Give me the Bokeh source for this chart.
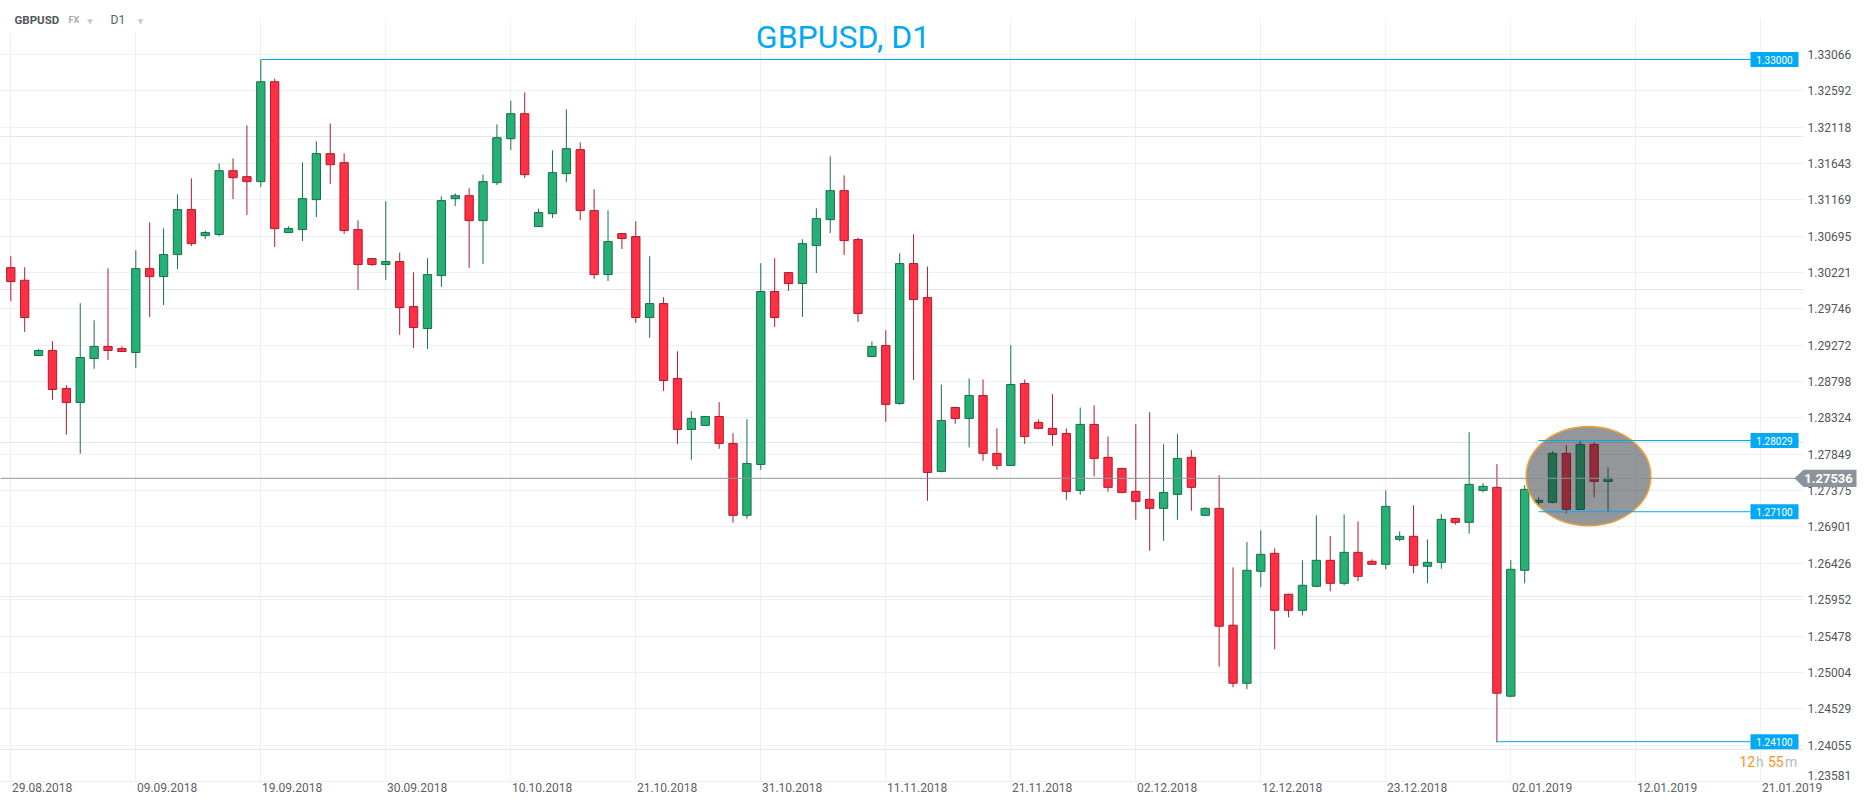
from bokeh.plotting import figure
from bokeh.models import Range1d, FixedTicker, Grid
from bokeh.embed import file_html
from bokeh.resources import INLINE
from bokeh.core.properties import value

# ---------------- data ----------------
date_ticks = ["29.08.2018", "09.09.2018", "19.09.2018", "30.09.2018", "10.10.2018",
              "21.10.2018", "31.10.2018", "11.11.2018", "21.11.2018", "02.12.2018",
              "12.12.2018", "23.12.2018", "02.01.2019", "12.01.2019", "21.01.2019"]
bars_per_tick = 9

price_ticks = [1.33066, 1.32592, 1.32118, 1.31643, 1.31169, 1.30695, 1.30221, 1.29746,
               1.29272, 1.28798, 1.28324, 1.27849, 1.27375, 1.26901, 1.26426, 1.25952,
               1.25478, 1.25004, 1.24529, 1.24055, 1.23581]

opens = [1.30285, 1.30120, 1.29138, 1.29204, 1.28708, 1.28526, 1.29099, 1.29256, 1.29230, 1.29177,
         1.30272, 1.30168, 1.30455, 1.31042, 1.30703, 1.30716, 1.31550, 1.31472, 1.31407, 1.32710,
         1.30742, 1.30781, 1.31172, 1.31772, 1.31654, 1.30781, 1.30403, 1.30325, 1.30364, 1.29777,
         1.29490, 1.30181, 1.31185, 1.31224, 1.30898, 1.31394, 1.31967, 1.32293, 1.30820, 1.30989,
         1.31511, 1.31824, 1.31029, 1.30194, 1.30729, 1.30690, 1.29634, 1.29816, 1.28839, 1.28174,
         1.28226, 1.28343, 1.27991, 1.27053, 1.27717, 1.29973, 1.30220, 1.30077, 1.30572, 1.30911,
         1.31289, 1.30651, 1.29125, 1.29269, 1.28513, 1.30338, 1.29894, 1.27626, 1.28460, 1.28317,
         1.28617, 1.27861, 1.27704, 1.28773, 1.28265, 1.28187, 1.28121, 1.27378, 1.28239, 1.27809,
         1.27665, 1.27365, 1.27261, 1.27144, 1.27326, 1.27809, 1.27053, 1.27144, 1.25619, 1.24862,
         1.26323, 1.26557, 1.26023, 1.25814, 1.26127, 1.26466, 1.26166, 1.26570, 1.26453, 1.26414,
         1.26740, 1.26779, 1.26388, 1.26440, 1.27013, 1.26961, 1.27378, 1.27418, 1.24693, 1.26336,
         1.27222, 1.27222, 1.27861, 1.27131, 1.27978, 1.27496]
highs = [1.30433, 1.30289, 1.29220, 1.29325, 1.28751, 1.29820, 1.29598, 1.30276, 1.29260, 1.30511,
         1.30876, 1.30798, 1.31241, 1.31450, 1.30768, 1.31645, 1.31710, 1.32141, 1.32995, 1.32749,
         1.30824, 1.31658, 1.31932, 1.32167, 1.31776, 1.30902, 1.30410, 1.31150, 1.30481, 1.30224,
         1.30407, 1.31215, 1.31254, 1.31319, 1.31498, 1.32154, 1.32463, 1.32571, 1.31055, 1.31815,
         1.32349, 1.31919, 1.31306, 1.31032, 1.30735, 1.30889, 1.30433, 1.29898, 1.29194, 1.28412,
         1.28343, 1.28530, 1.28125, 1.28308, 1.30342, 1.30407, 1.30228, 1.30654, 1.31059, 1.31736,
         1.31489, 1.30677, 1.29321, 1.29468, 1.30472, 1.30720, 1.30299, 1.28760, 1.28468, 1.28839,
         1.28825, 1.28187, 1.29273, 1.28825, 1.28304, 1.28634, 1.28187, 1.28460, 1.28487, 1.28082,
         1.27672, 1.28243, 1.28399, 1.27982, 1.28112, 1.27904, 1.27157, 1.27574, 1.26375, 1.26705,
         1.26857, 1.26622, 1.26030, 1.26466, 1.27053, 1.26783, 1.27066, 1.26974, 1.26479, 1.27378,
         1.26844, 1.27183, 1.26740, 1.27070, 1.27020, 1.28138, 1.27474, 1.27721, 1.26470, 1.27448,
         1.27287, 1.27891, 1.27969, 1.28029, 1.28008, 1.27678]
lows = [1.29850, 1.29446, 1.29138, 1.28560, 1.28103, 1.27856, 1.28964, 1.29081, 1.29190, 1.28977,
        1.29642, 1.29798, 1.30267, 1.30567, 1.30658, 1.30697, 1.31180, 1.30971, 1.31336, 1.30554,
        1.30742, 1.30632, 1.30945, 1.31375, 1.30724, 1.29994, 1.30306, 1.30124, 1.29407, 1.29237,
        1.29224, 1.30033, 1.31089, 1.30280, 1.30332, 1.31362, 1.31819, 1.31454, 1.30820, 1.30932,
        1.31401, 1.30906, 1.30137, 1.30111, 1.30528, 1.29563, 1.29368, 1.28677, 1.27986, 1.27777,
        1.28226, 1.27921, 1.26956, 1.27008, 1.27647, 1.29511, 1.29980, 1.29642, 1.30215, 1.30737,
        1.30450, 1.29576, 1.29125, 1.28273, 1.28494, 1.28820, 1.27243, 1.27613, 1.28247, 1.27939,
        1.27764, 1.27647, 1.27700, 1.27986, 1.28174, 1.27960, 1.27256, 1.27321, 1.27561, 1.27360,
        1.27339, 1.26995, 1.26591, 1.26721, 1.26995, 1.27113, 1.27040, 1.25079, 1.24810, 1.24784,
        1.26114, 1.25306, 1.25723, 1.25749, 1.26114, 1.26062, 1.26140, 1.26192, 1.26414, 1.26349,
        1.26714, 1.26297, 1.26166, 1.26356, 1.26930, 1.26813, 1.27352, 1.24090, 1.24680, 1.26166,
        1.27170, 1.27209, 1.27079, 1.27120, 1.27287, 1.27100]
closes = [1.30103, 1.29634, 1.29204, 1.28695, 1.28526, 1.29112, 1.29256, 1.29204, 1.29190, 1.30272,
          1.30168, 1.30455, 1.31042, 1.30598, 1.30742, 1.31550, 1.31459, 1.31407, 1.32710, 1.30794,
          1.30794, 1.31185, 1.31772, 1.31628, 1.30768, 1.30325, 1.30325, 1.30364, 1.29764, 1.29503,
          1.30194, 1.31159, 1.31224, 1.30898, 1.31407, 1.31980, 1.32293, 1.31498, 1.31003, 1.31524,
          1.31837, 1.31029, 1.30194, 1.30624, 1.30664, 1.29634, 1.29816, 1.28812, 1.28174, 1.28317,
          1.28343, 1.27991, 1.27053, 1.27730, 1.29973, 1.29634, 1.30077, 1.30598, 1.30924, 1.31289,
          1.30637, 1.29686, 1.29256, 1.28500, 1.30338, 1.29868, 1.27613, 1.28291, 1.28317, 1.28617,
          1.27861, 1.27704, 1.28760, 1.28082, 1.28187, 1.28108, 1.27365, 1.28239, 1.27796, 1.27418,
          1.27352, 1.27235, 1.27144, 1.27352, 1.27796, 1.27418, 1.27144, 1.25606, 1.24862, 1.26336,
          1.26544, 1.25814, 1.25814, 1.26140, 1.26466, 1.26166, 1.26570, 1.26257, 1.26414, 1.27170,
          1.26779, 1.26401, 1.26440, 1.27000, 1.26961, 1.27457, 1.27431, 1.24732, 1.26349, 1.27392,
          1.27248, 1.27861, 1.27131, 1.27978, 1.27496, 1.27536]

last_price = 1.27536
level_values = [1.33000, 1.28029, 1.27100, 1.24100]
level_labels = ["1.33000", "1.28029", "1.27100", "1.24100"]
level_start_bar = [18, 110, 110, 107]

# ---------------- layout (page pixels) ----------------
FONT = "Roboto"
W, H = 1866, 806
X0_PX = 10.3                 # pixel of first bar centre
BAR_PX = 125.0 / 9.0         # pixels per bar
FR_B = 782                   # frame bottom
KY = 0.00013047              # price per pixel
Y_TOP = 1.33770              # price at top edge


def xd(px):
    return (px - X0_PX) / BAR_PX


def yd(py):
    return Y_TOP - py * KY


p = figure(width=W, height=H,
           x_range=Range1d(xd(0), xd(W)),
           y_range=Range1d(yd(FR_B), Y_TOP),
           y_axis_location=None,
           output_backend="svg", toolbar_location=None,
           min_border_left=0, min_border_right=0,
           min_border_top=0, min_border_bottom=H - FR_B)
p.outline_line_color = None
p.background_fill_color = "white"
p.border_fill_color = "white"

GRID = "#eff0f2"
# x axis: labels left-aligned at the grid lines (label ticks shifted by half a label)
LABEL_SHIFT = 2.25
p.xaxis.ticker = FixedTicker(ticks=[i * bars_per_tick + LABEL_SHIFT for i in range(len(date_ticks))])
p.xaxis.major_label_overrides = {i * bars_per_tick + LABEL_SHIFT: d for i, d in enumerate(date_ticks)}
p.xaxis.major_label_text_font = FONT
p.xaxis.major_label_text_font_size = "12px"
p.xaxis.major_label_text_color = "#5b6166"
p.xaxis.major_label_standoff = 0
p.xaxis.major_tick_line_color = None
p.xaxis.major_tick_out = 0
p.xaxis.minor_tick_line_color = None
p.xaxis.axis_line_color = None
p.xgrid.ticker = FixedTicker(ticks=[i * bars_per_tick for i in range(len(date_ticks))])
p.xgrid.grid_line_color = GRID
p.add_layout(Grid(dimension=1, ticker=FixedTicker(ticks=price_ticks), grid_line_color=GRID))

# white margins (header strip, header box, price scale area)
p.quad(left=[xd(0), xd(0), xd(1803)], right=[xd(1803), xd(150), xd(W)],
       bottom=[yd(18), yd(32), yd(FR_B)], top=[Y_TOP, Y_TOP, Y_TOP],
       fill_color="white", line_color=None)

# candles
idx = list(range(len(opens)))
up = [c >= o for o, c in zip(opens, closes)]
fill = ["#26b075" if u else "#ff3045" for u in up]
edge = ["#167048" if u else "#b01c2c" for u in up]
tops = [max(o, c) for o, c in zip(opens, closes)]
bots = [min(o, c) for o, c in zip(opens, closes)]
p.segment(x0=idx, y0=lows, x1=idx, y1=highs, line_color=edge, line_width=1)
p.vbar(x=idx, width=0.6, top=tops, bottom=bots, fill_color=fill, line_color=edge, line_width=1)

# highlight ellipse
p.ellipse(x=[xd(1588)], y=[yd(475.7)], width=124.7 / BAR_PX, height=99.3 * KY,
          fill_color="#1e2629", fill_alpha=0.48, line_color="#f5a033", line_width=1.5)

# current price line
p.segment(x0=[xd(0)], y0=[last_price], x1=[xd(1795)], y1=[last_price],
          line_color="#8c9499", line_width=1)

# level lines + labels
BLUE = "#03a9f4"
p.segment(x0=level_start_bar, y0=level_values, x1=[xd(1798)] * 4, y1=level_values,
          line_color=BLUE, line_width=1)
p.quad(left=[xd(1750)] * 4, right=[xd(1798)] * 4,
       bottom=[v - 7.5 * KY for v in level_values], top=[v + 7.5 * KY for v in level_values],
       fill_color=BLUE, line_color=None)
p.text(x=[xd(1774)] * 4, y=level_values, text=level_labels,
       text_font=value(FONT), text_font_size="10px", text_color="white",
       text_align="center", text_baseline="middle")

# price scale labels (the lowest one is lifted to stay inside the scale)
label_y = list(price_ticks)
label_y[-1] = price_ticks[-1] + 6 * KY
p.text(x=[xd(1807)] * len(price_ticks), y=label_y, text=["%.5f" % v for v in price_ticks],
       text_font=value(FONT), text_font_size="12px", text_color="#50565b",
       text_align="left", text_baseline="middle")

# current price tag on the scale
hh = 8.6 * KY
p.patch(x=[xd(1794), xd(1803), xd(1856), xd(1856), xd(1803)],
        y=[last_price, last_price + hh, last_price + hh, last_price - hh, last_price - hh],
        fill_color="#8c9499", line_color=None)
p.text(x=[xd(1828)], y=[last_price], text=["%.5f" % last_price],
       text_font=value(FONT), text_font_size="13px", text_font_style="bold",
       text_color="white", text_align="center", text_baseline="middle")

# countdown
p.text(x=[xd(1739), xd(1755.5), xd(1767.5), xd(1784.5)], y=[yd(761)] * 4,
       text=["12", "h", "55", "m"],
       text_color=["#f7931e", "#b8bcc0", "#f7931e", "#b8bcc0"],
       text_font=value(FONT), text_font_size="14px",
       text_align="left", text_baseline="middle")

# title
p.text(x=[xd(842.5)], y=[yd(36)], text=["GBPUSD, D1"], text_font=value(FONT),
       text_font_size="32px", text_color=BLUE, text_align="center", text_baseline="middle")

# header
p.text(x=[xd(14)], y=[yd(19.3)], text=["GBPUSD"], text_font=value(FONT),
       text_font_size="11.5px", text_font_style="bold", text_color="#4f575c",
       text_align="left", text_baseline="middle")
p.text(x=[xd(68)], y=[yd(19.3)], text=["FX"], text_font=value(FONT),
       text_font_size="9px", text_font_style="bold", text_color="#a3aab0",
       text_align="left", text_baseline="middle")
p.text(x=[xd(110)], y=[yd(19.3)], text=["D1"], text_font=value(FONT),
       text_font_size="12px", text_color="#5a6166",
       text_align="left", text_baseline="middle")
p.scatter(x=[xd(89.5), xd(140)], y=[yd(20.5)] * 2, marker="inverted_triangle", size=6,
          fill_color="#c5cacd", line_color=None)

html = file_html(p, INLINE, title="GBPUSD, D1")
with open("out.html", "w") as f:
    f.write(html)
